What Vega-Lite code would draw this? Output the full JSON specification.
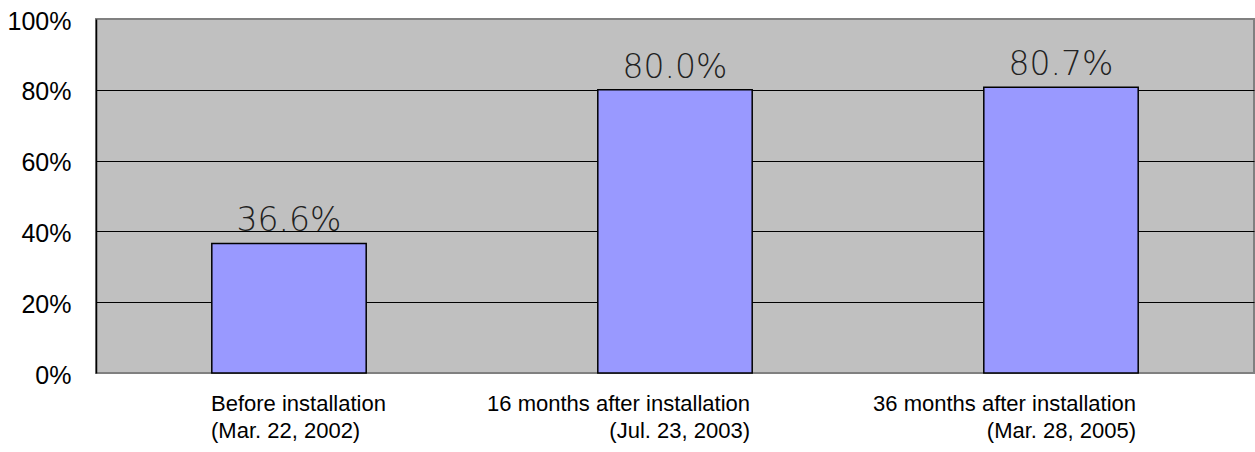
{
  "$schema": "https://vega.github.io/schema/vega-lite/v6.json",
  "autosize": "none",
  "width": 1158,
  "height": 354,
  "padding": {"left": 96, "top": 19, "right": 1, "bottom": 79},
  "background": "white",
  "config": {
    "view": {"fill": "#C0C0C0", "stroke": "#808080", "strokeWidth": 2},
    "font": "Liberation Sans"
  },
  "data": {
    "values": [
      {"period": "Before installation|(Mar. 22, 2002)", "rate": 0.366},
      {"period": "16 months after installation|(Jul. 23, 2003)", "rate": 0.800},
      {"period": "36 months after installation|(Mar. 28, 2005)", "rate": 0.807}
    ]
  },
  "encoding": {
    "x": {
      "field": "period",
      "type": "nominal",
      "sort": null,
      "scale": {"paddingInner": 0.6, "paddingOuter": 0.3},
      "axis": {
        "title": null,
        "domain": false,
        "ticks": false,
        "labelAngle": 0,
        "labelLimit": 0,
        "labelExpr": "split(datum.value, '|')",
        "labelFont": "Liberation Sans",
        "labelFontSize": 22,
        "labelColor": "black",
        "labelLineHeight": 27,
        "labelPadding": 20,
        "labelBaseline": "top",
        "labelAlign": {"condition": {"test": "datum.value == 'Before installation|(Mar. 22, 2002)'", "value": "left"}, "value": "right"},
        "labelOffset": {"condition": {"test": "datum.value == 'Before installation|(Mar. 22, 2002)'", "value": -78}, "value": 75}
      }
    },
    "y": {
      "field": "rate",
      "type": "quantitative",
      "scale": {"domain": [0, 1], "nice": false},
      "axis": {
        "title": null,
        "values": [0, 0.2, 0.4, 0.6, 0.8, 1],
        "format": ".0%",
        "ticks": false,
        "domain": true,
        "domainColor": "black",
        "domainWidth": 1.5,
        "grid": true,
        "gridColor": "black",
        "gridWidth": 1,
        "gridOpacity": {"condition": {"test": "datum.value == 0 || datum.value == 1", "value": 0}, "value": 1},
        "labelFont": "Liberation Sans",
        "labelFontSize": 25,
        "labelColor": "black",
        "labelPadding": 25,
        "labelOffset": 2
      }
    }
  },
  "layer": [
    {
      "mark": {"type": "bar", "fill": "#9999FF", "stroke": "black", "strokeWidth": 1.5}
    },
    {
      "mark": {"type": "text", "baseline": "bottom", "dy": -5, "font": "DejaVu Sans", "fontSize": 33, "fontWeight": 300, "color": "#222222"},
      "encoding": {
        "text": {"field": "rate", "type": "quantitative", "format": ".1%"}
      }
    }
  ]
}
